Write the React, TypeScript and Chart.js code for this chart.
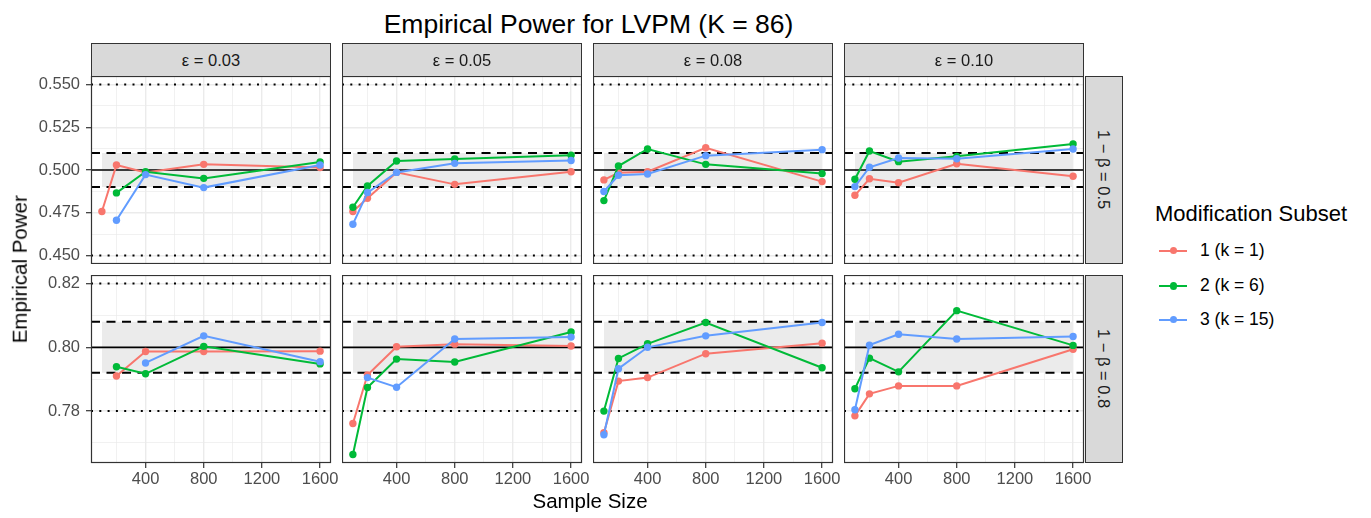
import React, { useEffect, useRef } from "react";
import { Chart, registerables } from "chart.js";

Chart.register(...registerables);

// ---------------- data ----------------
const SAMPLE_SIZES = [100, 200, 400, 800, 1600];
const X_MAJOR_TICKS = [400, 800, 1200, 1600];
const X_MINOR_TICKS = [200, 600, 1000, 1400];
const EPSILON_LABELS = ["ε = 0.03", "ε = 0.05", "ε = 0.08", "ε = 0.10"];
const POWER_LABELS = ["1 − β = 0.5", "1 − β = 0.8"];
const SUBSET_LABELS = ["1 (k = 1)", "2 (k = 6)", "3 (k = 15)"];
const SUBSET_COLORS = ["#F8766D", "#00BA38", "#619CFF"];

const TARGET_POWER = [0.5, 0.8];
const TOLERANCE_BAND = [
  [0.49, 0.51],
  [0.792, 0.808],
];
const OUTER_BOUNDS = [
  [0.45, 0.55],
  [0.78, 0.82],
];
const Y_MAJOR_TICKS = [
  [0.45, 0.475, 0.5, 0.525, 0.55],
  [0.78, 0.8, 0.82],
];
const Y_MINOR_TICKS = [
  [0.4625, 0.4875, 0.5125, 0.5375],
  [0.77, 0.79, 0.81],
];
const Y_TICK_DECIMALS = [3, 2];

// values per ε column (0.03, 0.05, 0.08, 0.10), aligned with SAMPLE_SIZES
const SUBSET1_POWER05 = [
  [0.4757, 0.5029, 0.4986, 0.5033, 0.5015],
  [0.4757, 0.4835, 0.4986, 0.4916, 0.499],
  [0.4942, 0.4984, 0.499, 0.513, 0.4932],
  [0.4852, 0.4949, 0.4926, 0.5037, 0.4963],
];
const SUBSET2_POWER05 = [
  [null, 0.4866, 0.499, 0.4951, 0.5047],
  [0.4782, 0.4907, 0.5053, 0.5064, 0.5086],
  [0.4821, 0.5023, 0.5123, 0.5033, 0.4979],
  [0.4946, 0.5111, 0.5049, 0.508, 0.5152],
];
const SUBSET3_POWER05 = [
  [null, 0.4706, 0.4973, 0.4897, 0.5029],
  [0.4683, 0.4868, 0.4986, 0.5039, 0.5056],
  [0.4874, 0.4969, 0.4977, 0.5084, 0.5119],
  [0.4903, 0.5016, 0.507, 0.5066, 0.5123],
];
const SUBSET1_POWER08 = [
  [null, 0.791, 0.7987, 0.7987, 0.7988],
  [0.7761, 0.7913, 0.8002, 0.801, 0.8004],
  [0.7732, 0.7894, 0.7905, 0.798, 0.8013],
  [0.7785, 0.7854, 0.7879, 0.7879, 0.7994],
];
const SUBSET2_POWER08 = [
  [null, 0.7939, 0.7917, 0.8003, 0.7948],
  [0.7664, 0.7874, 0.7963, 0.7954, 0.8048],
  [0.78, 0.7965, 0.8011, 0.8078, 0.7936],
  [0.787, 0.7966, 0.7923, 0.8115, 0.8006],
];
const SUBSET3_POWER08 = [
  [null, null, 0.7951, 0.8036, 0.7955],
  [null, 0.7905, 0.7875, 0.8026, 0.8032],
  [0.7726, 0.7933, 0.8, 0.8036, 0.8078],
  [0.7804, 0.8007, 0.8041, 0.8026, 0.8034],
];

const SERIES = [
  [SUBSET1_POWER05, SUBSET1_POWER08],
  [SUBSET2_POWER05, SUBSET2_POWER08],
  [SUBSET3_POWER05, SUBSET3_POWER08],
];

// ---------------- layout ----------------
const FONT = '"Liberation Sans", Arial, Helvetica, sans-serif';
const PANEL_LEFTS = [91, 342, 593, 844];
const PANEL_W = 240;
const PANEL_TOPS = [76, 275];
const PANEL_H = 188;
const STRIP_TOP = 43;

Chart.defaults.font.family = FONT;

const near = (a: number, list: number[]) => list.some((v) => Math.abs(v - a) < 1e-9);

const panelBorder = {
  id: "panelBorder",
  afterDraw(chart: any) {
    const { ctx, chartArea: a } = chart;
    ctx.save();
    ctx.strokeStyle = "#333333";
    ctx.lineWidth = 1.2;
    ctx.strokeRect(a.left + 0.5, a.top + 0.5, a.right - a.left - 1, a.bottom - a.top - 1);
    ctx.restore();
  },
};

function PanelChart({ row, col }: { row: number; col: number }) {
  const ref = useRef<HTMLCanvasElement>(null);
  const isLeft = col === 0;
  const isBottom = row === 1;
  const canvasLeft = isLeft ? 0 : PANEL_LEFTS[col];
  const yAxisW = PANEL_LEFTS[col] - canvasLeft;
  const padRight = isBottom ? 24 : 0;
  const xAxisH = isBottom ? 36 : 0;
  const width = PANEL_LEFTS[col] + PANEL_W + padRight - canvasLeft;
  const height = PANEL_H + xAxisH;

  useEffect(() => {
    const xFirst = SAMPLE_SIZES[0];
    const xLast = SAMPLE_SIZES[SAMPLE_SIZES.length - 1];
    const xPad = (xLast - xFirst) * 0.05;
    const xLo = xFirst - xPad;
    const xHi = xLast + xPad;

    const rowVals: number[] = [...OUTER_BOUNDS[row]];
    SERIES.forEach((s) => s[row].forEach((arr) => arr.forEach((v) => v != null && rowVals.push(v as number))));
    const lo = Math.min(...rowVals);
    const hi = Math.max(...rowVals);
    const yPad = (hi - lo) * 0.05;
    const yLo = lo - yPad;
    const yHi = hi + yPad;

    const datasets: any[] = [];
    const [bLo, bHi] = TOLERANCE_BAND[row];
    datasets.push({
      data: [{ x: xFirst, y: bLo }, { x: xLast, y: bLo }],
      borderColor: "rgba(0,0,0,0)",
      borderWidth: 0,
      pointRadius: 0,
      fill: false,
      order: 30,
    });
    datasets.push({
      data: [{ x: xFirst, y: bHi }, { x: xLast, y: bHi }],
      borderColor: "rgba(0,0,0,0)",
      borderWidth: 0,
      pointRadius: 0,
      fill: { target: 0 },
      backgroundColor: "#EBEBEB",
      order: 30,
    });
    OUTER_BOUNDS[row].forEach((v) =>
      datasets.push({
        data: [{ x: xLo, y: v }, { x: xHi, y: v }],
        borderColor: "#000000",
        borderWidth: 2,
        borderDash: [2, 6.3],
        pointRadius: 0,
        fill: false,
        order: 20,
      })
    );
    TOLERANCE_BAND[row].forEach((v) =>
      datasets.push({
        data: [{ x: xLo, y: v }, { x: xHi, y: v }],
        borderColor: "#000000",
        borderWidth: 2,
        borderDash: [9, 6.5],
        pointRadius: 0,
        fill: false,
        order: 20,
      })
    );
    datasets.push({
      data: [{ x: xLo, y: TARGET_POWER[row] }, { x: xHi, y: TARGET_POWER[row] }],
      borderColor: "#000000",
      borderWidth: 1.7,
      pointRadius: 0,
      fill: false,
      order: 20,
    });
    SERIES.forEach((s, i) => {
      const vals = s[row][col];
      const pts = SAMPLE_SIZES.map((x, k) => ({ x, y: vals[k] })).filter((p) => p.y != null);
      datasets.push({
        data: pts,
        borderColor: SUBSET_COLORS[i],
        backgroundColor: SUBSET_COLORS[i],
        pointBackgroundColor: SUBSET_COLORS[i],
        borderWidth: 2,
        pointRadius: 3.7,
        pointBorderWidth: 0,
        pointHoverRadius: 3.7,
        tension: 0,
        fill: false,
        order: 3 - i,
      });
    });

    const xTicks = [...X_MINOR_TICKS, ...X_MAJOR_TICKS].sort((a, b) => a - b);
    const yTicks = [...Y_MINOR_TICKS[row], ...Y_MAJOR_TICKS[row]].sort((a, b) => a - b);

    const chart = new Chart(ref.current as HTMLCanvasElement, {
      type: "line",
      data: { datasets },
      plugins: [panelBorder],
      options: {
        animation: false,
        responsive: false,
        maintainAspectRatio: false,
        events: [],
        layout: { autoPadding: false, padding: { left: 0, top: 0, right: padRight, bottom: 0 } },
        plugins: { legend: { display: false }, tooltip: { enabled: false } },
        scales: {
          x: {
            type: "linear",
            min: xLo,
            max: xHi,
            bounds: "data",
            afterBuildTicks: (s: any) => {
              s.ticks = xTicks.map((v) => ({ value: v }));
            },
            afterFit: (s: any) => {
              s.height = xAxisH;
              s.paddingLeft = 0;
              s.paddingRight = 0;
            },
            border: { display: false },
            grid: {
              drawTicks: isBottom,
              tickLength: 5,
              color: "#EBEBEB",
              lineWidth: (c: any) => (c.tick && near(c.tick.value, X_MAJOR_TICKS) ? 1.4 : 0.7),
              tickColor: (c: any) => (c.tick && near(c.tick.value, X_MAJOR_TICKS) ? "#333333" : "rgba(0,0,0,0)"),
              tickWidth: 1.2,
            },
            ticks: {
              display: isBottom,
              autoSkip: false,
              maxRotation: 0,
              minRotation: 0,
              padding: 2,
              color: "#4D4D4D",
              font: { size: 16.5, family: FONT },
              callback: (v: any) => (near(Number(v), X_MAJOR_TICKS) ? String(v) : ""),
            },
          },
          y: {
            type: "linear",
            min: yLo,
            max: yHi,
            bounds: "data",
            afterBuildTicks: (s: any) => {
              s.ticks = yTicks.map((v) => ({ value: v }));
            },
            afterFit: (s: any) => {
              s.width = yAxisW;
              s.paddingTop = 0;
              s.paddingBottom = 0;
            },
            border: { display: false },
            grid: {
              drawTicks: isLeft,
              tickLength: 5,
              color: "#EBEBEB",
              lineWidth: (c: any) => (c.tick && near(c.tick.value, Y_MAJOR_TICKS[row]) ? 1.4 : 0.7),
              tickColor: (c: any) =>
                c.tick && near(c.tick.value, Y_MAJOR_TICKS[row]) ? "#333333" : "rgba(0,0,0,0)",
              tickWidth: 1.2,
            },
            ticks: {
              display: isLeft,
              autoSkip: false,
              padding: 6,
              color: "#4D4D4D",
              font: { size: 16.5, family: FONT },
              callback: (v: any) =>
                near(Number(v), Y_MAJOR_TICKS[row]) ? Number(v).toFixed(Y_TICK_DECIMALS[row]) : "",
            },
          },
        },
      } as any,
    });
    return () => chart.destroy();
  }, []);

  return (
    <canvas
      ref={ref}
      width={width}
      height={height}
      style={{ position: "absolute", left: canvasLeft, top: PANEL_TOPS[row], width, height }}
    />
  );
}

function TextAt({
  x,
  top,
  size,
  text,
  align = "left",
  color = "#000000",
}: {
  x: number;
  top: number;
  size: number;
  text: string;
  align?: "left" | "center";
  color?: string;
}) {
  const w = 600;
  return (
    <div
      style={{
        position: "absolute",
        left: align === "center" ? x - w / 2 : x,
        top,
        width: w,
        textAlign: align,
        fontSize: size,
        lineHeight: 1,
        fontFamily: FONT,
        color,
        whiteSpace: "nowrap",
      }}
    >
      {text}
    </div>
  );
}

export default function App() {
  const panels: React.ReactNode[] = [];
  for (let r = 0; r < 2; r++) for (let c = 0; c < 4; c++) panels.push(<PanelChart key={`${r}-${c}`} row={r} col={c} />);

  return (
    <div
      style={{
        position: "fixed",
        left: 0,
        top: 0,
        width: 1371,
        height: 518,
        background: "#FFFFFF",
        overflow: "hidden",
        fontFamily: FONT,
      }}
    >
      {panels}

      {/* column strips */}
      {EPSILON_LABELS.map((lab, c) => (
        <div
          key={lab}
          style={{
            position: "absolute",
            left: PANEL_LEFTS[c],
            top: STRIP_TOP,
            width: PANEL_W,
            height: PANEL_TOPS[0] - STRIP_TOP + 1,
            boxSizing: "border-box",
            background: "#D9D9D9",
            border: "1.2px solid #333333",
            display: "flex",
            alignItems: "center",
            justifyContent: "center",
            fontSize: 16.5,
            color: "#1A1A1A",
            lineHeight: 1,
          }}
        >
          {lab}
        </div>
      ))}

      {/* row strips */}
      {POWER_LABELS.map((lab, r) => (
        <div
          key={lab}
          style={{
            position: "absolute",
            left: PANEL_LEFTS[3] + PANEL_W + 1,
            top: PANEL_TOPS[r],
            width: 38,
            height: PANEL_H,
            boxSizing: "border-box",
            background: "#D9D9D9",
            border: "1.2px solid #333333",
            display: "flex",
            alignItems: "center",
            justifyContent: "center",
            fontSize: 16.5,
            color: "#1A1A1A",
            lineHeight: 1,
          }}
        >
          <span style={{ writingMode: "vertical-rl", whiteSpace: "nowrap" }}>{lab}</span>
        </div>
      ))}

      {/* title */}
      <TextAt x={588.5} top={10.6} size={26.5} text="Empirical Power for LVPM (K = 86)" align="center" />

      {/* x axis title */}
      <TextAt x={590} top={491} size={20.5} text="Sample Size" align="center" />

      {/* y axis title */}
      <div
        style={{
          position: "absolute",
          left: 19.6 - 150,
          top: 269.5 - 10.25,
          width: 300,
          height: 20.5,
          textAlign: "center",
          fontSize: 20.5,
          lineHeight: 1,
          transform: "rotate(-90deg)",
          transformOrigin: "50% 50%",
          whiteSpace: "nowrap",
          color: "#000000",
        }}
      >
        Empirical Power
      </div>

      {/* legend */}
      <TextAt x={1155} top={202.5} size={22} text="Modification Subset" />
      {SUBSET_LABELS.map((lab, i) => {
        const cy = [250.7, 286, 319.5][i];
        return (
          <React.Fragment key={lab}>
            <div
              style={{
                position: "absolute",
                left: 1159,
                top: cy - 1,
                width: 28,
                height: 2,
                background: SUBSET_COLORS[i],
              }}
            />
            <div
              style={{
                position: "absolute",
                left: 1173.3 - 3.6,
                top: cy - 3.6,
                width: 7.2,
                height: 7.2,
                borderRadius: "50%",
                background: SUBSET_COLORS[i],
              }}
            />
            <TextAt x={1200} top={cy - 8.55} size={17.5} text={lab} />
          </React.Fragment>
        );
      })}
    </div>
  );
}
